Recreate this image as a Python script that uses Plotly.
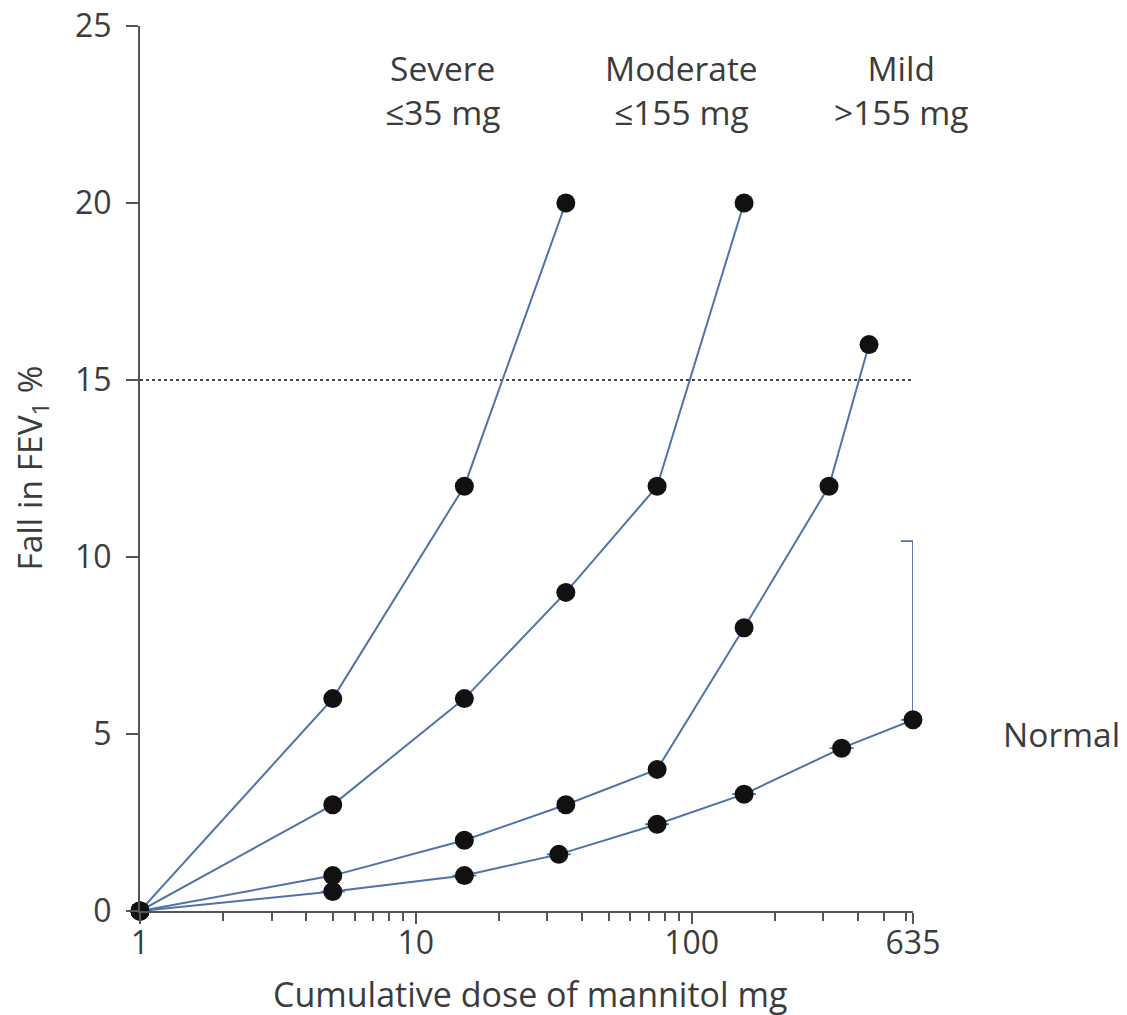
import math
import plotly.graph_objects as go

# ---- data ----
dose_severe = [1, 5, 15, 35]
fall_severe = [0, 6, 12, 20]

dose_moderate = [1, 5, 15, 35, 75, 155]
fall_moderate = [0, 3, 6, 9, 12, 20]

dose_mild = [1, 5, 15, 35, 75, 155, 315, 440]
fall_mild = [0, 1, 2, 3, 4, 8, 12, 16]

dose_normal = [1, 5, 15, 33, 75, 155, 350, 635]
fall_normal = [0, 0.55, 1.0, 1.6, 2.45, 3.3, 4.6, 5.4]
normal_err_plus = [0, 0, 0, 0, 0, 0, 0, 5.05]

threshold = 15
x_tickvals = [1, 10, 100, 635]
x_ticktext = ["1", "10", "100", "635"]
x_minor = [2, 3, 4, 5, 6, 7, 8, 9, 20, 30, 40, 50, 60, 70, 80, 90, 200, 300, 400, 500, 600]
y_tickvals = [0, 5, 10, 15, 20, 25]

group_labels = ["Severe<br>≤35 mg", "Moderate<br>≤155 mg", "Mild<br>>155 mg"]
group_label_dose = [12.5, 92, 575]
normal_label = "Normal"

LINE = "#4f73a6"
AXIS = "#555555"
TEXT = "#3c3c3c"
FONT = "Open Sans, Roboto, sans-serif"
FS_TICK = 32
FS_TEXT = 33.5
FS_TITLE = 34

fig = go.Figure()

series = [
    (dose_severe, fall_severe, None),
    (dose_moderate, fall_moderate, None),
    (dose_mild, fall_mild, None),
    (dose_normal, fall_normal, normal_err_plus),
]
for xs, ys, err in series:
    kw = {}
    if err is not None:
        kw["error_y"] = dict(type="data", array=err, arrayminus=[0] * len(err),
                             symmetric=False, color=LINE, thickness=1.8, width=12)
    fig.add_trace(go.Scatter(
        x=xs, y=ys, mode="lines+markers",
        line=dict(color=LINE, width=2),
        marker=dict(color="#111111", size=19, line=dict(width=0)),
        cliponaxis=False, showlegend=False, **kw))

# 15% threshold dotted line
fig.add_shape(type="line", xref="x", yref="y", x0=1, x1=650, y0=threshold, y1=threshold,
              line=dict(color="#444444", width=1.8, dash="dot"), layer="below")

for txt, gx in zip(group_labels, group_label_dose):
    fig.add_annotation(x=math.log10(gx), y=23.2, xref="x", yref="y", text=txt, showarrow=False,
                       font=dict(size=FS_TEXT, color=TEXT, family=FONT), align="center")

fig.add_annotation(x=1.0, y=5.0, xref="paper", yref="y", text=normal_label, showarrow=False,
                   xanchor="left", xshift=88, font=dict(size=FS_TEXT, color=TEXT, family=FONT))

# axis titles
fig.add_annotation(x=0.505, y=0, xref="paper", yref="paper", yshift=-83,
                   xanchor="center", yanchor="middle",
                   text="Cumulative dose of mannitol mg", showarrow=False,
                   font=dict(size=FS_TITLE, color=TEXT, family=FONT))
fig.add_annotation(x=0, y=0.5, xref="paper", yref="paper", xshift=-110, textangle=-90,
                   xanchor="center", yanchor="middle",
                   text="Fall in FEV<sub>1</sub> %", showarrow=False,
                   font=dict(size=FS_TEXT, color=TEXT, family=FONT))

# the page body adds an 8px offset; margins compensate so the axes land where the reference has them
fig.update_layout(
    width=1127, height=1015,
    margin=dict(l=132, r=222, t=18, b=112, autoexpand=False),
    paper_bgcolor="white", plot_bgcolor="white",
    font=dict(family=FONT, color=TEXT, size=FS_TICK),
)
fig.update_xaxes(
    type="log", range=[0, 2.8028], showgrid=False, zeroline=False, automargin=False,
    showline=True, linecolor=AXIS, linewidth=2,
    tickmode="array", tickvals=x_tickvals, ticktext=x_ticktext,
    ticks="outside", ticklen=11, tickwidth=2, tickcolor=AXIS,
    minor=dict(tickvals=x_minor, ticks="outside", ticklen=8, tickwidth=1.5, tickcolor=AXIS),
    tickfont=dict(size=FS_TICK, color=TEXT, family=FONT), ticklabelstandoff=-8,
    ticklabeloverflow="allow",
)
fig.update_yaxes(
    range=[0, 25], showgrid=False, zeroline=False, automargin=False,
    showline=True, linecolor=AXIS, linewidth=2,
    tickmode="array", tickvals=y_tickvals,
    ticks="outside", ticklen=12, tickwidth=2, tickcolor=AXIS,
    tickfont=dict(size=FS_TICK, color=TEXT, family=FONT), ticklabelstandoff=8,
    ticklabeloverflow="allow",
)

fig.write_html("out.html")
